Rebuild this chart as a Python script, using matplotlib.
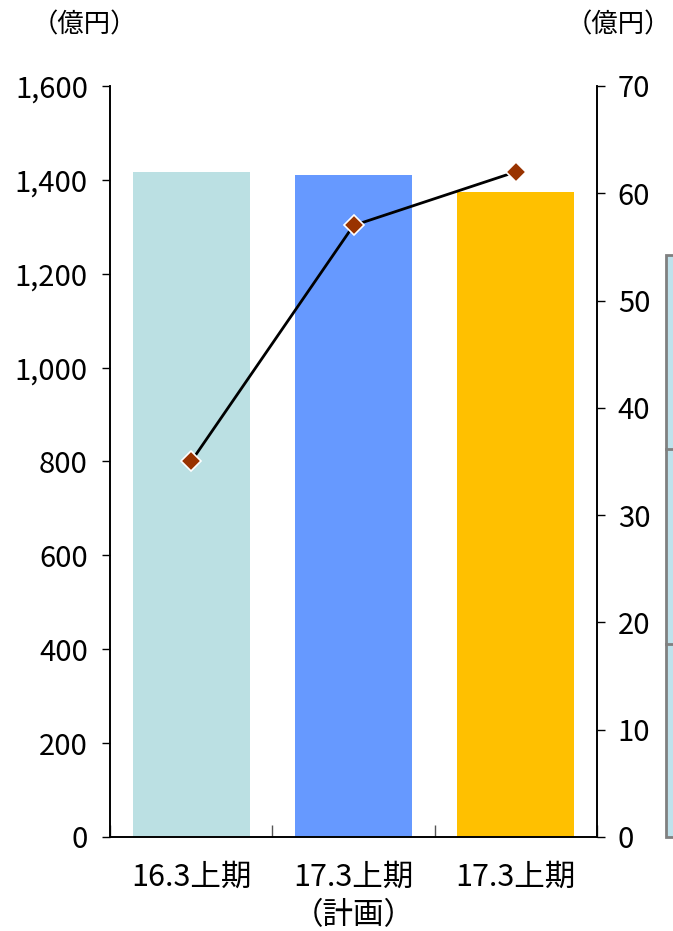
import matplotlib
matplotlib.use("Agg")
import matplotlib.pyplot as plt
from matplotlib.patches import Rectangle

plt.rcParams['font.family'] = ['Noto Sans CJK JP', 'DejaVu Sans']

categories = ["16.3上期", "17.3上期\n（計画）", "17.3上期"]
bar_values = [1417, 1410, 1374]
line_values = [35, 57, 62]
bar_colors = ["#BBE0E3", "#6699FF", "#FFC000"]
left_ticks = [0, 200, 400, 600, 800, 1000, 1200, 1400, 1600]
left_labels = ["0", "200", "400", "600", "800", "1,000", "1,200", "1,400", "1,600"]
right_ticks = [0, 10, 20, 30, 40, 50, 60, 70]

fig = plt.figure(figsize=(6.73, 9.31), dpi=100)
ax = fig.add_axes([110/673, 94/931, 487/673, 751/931])
x = list(range(len(categories)))
ax.bar(x, bar_values, width=0.72, color=bar_colors, zorder=1)
ax.set_xlim(-0.5, 2.5)
ax.set_ylim(0, 1600)
ax.set_yticks(left_ticks)
ax.set_yticklabels(left_labels)
ax.spines['top'].set_visible(False)
for s in ['left', 'right', 'bottom']:
    ax.spines[s].set_linewidth(1.2)
ax.tick_params(axis='y', direction='out', length=6, width=1, labelsize=21, pad=10)
ax.set_xticks(x)
ax.set_xticklabels(categories, fontsize=22, linespacing=1.3, va='top')
ax.tick_params(axis='x', length=0, pad=18)
# category boundary ticks (inward)
ax.set_xticks([-0.5, 0.5, 1.5, 2.5], minor=True)
ax.tick_params(axis='x', which='minor', direction='in', length=9, width=1, color='#555555')

ax2 = ax.twinx()
ax2.set_ylim(0, 70)
ax2.set_yticks(right_ticks)
ax2.plot(x, line_values, color='black', linewidth=2, marker='D', markersize=10,
         markerfacecolor='#993300', markeredgecolor='white', markeredgewidth=1.2, zorder=3)
ax2.spines['top'].set_visible(False)
for s in ['left', 'right', 'bottom']:
    ax2.spines[s].set_linewidth(1.2)
ax2.tick_params(axis='y', direction='out', length=6, width=1, labelsize=21, pad=9)

fig.text(84/673, 1 - 25/931, "（億円）", fontsize=19, ha='center', va='center')
fig.text(671/673, 1 - 25/931, "（億円）", fontsize=19, ha='right', va='center')

# partially visible box at the right edge
box_x = 666/673
box_y0 = 94/931
box_h = (837-255)/931
fig.patches.append(Rectangle((box_x, box_y0), 0.05, box_h, transform=fig.transFigure,
                             facecolor='#BFE2EC', edgecolor='#808080', linewidth=2, clip_on=False))
for yy in [449, 644]:
    fig.lines.append(plt.Line2D([box_x, 1.0], [1 - yy/931, 1 - yy/931], transform=fig.transFigure,
                                color='#808080', linewidth=2))

fig.savefig("out.png", dpi=100)
